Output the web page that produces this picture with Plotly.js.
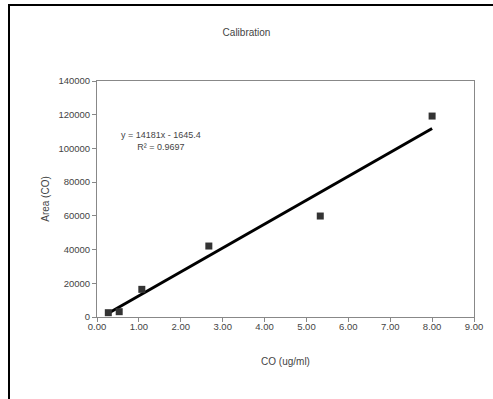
<!DOCTYPE html>
<html>
<head>
<meta charset="utf-8">
<script src="https://cdn.plot.ly/plotly-3.0.1.min.js"></script>
<style>
  html, body { margin: 0; padding: 0; background: #fff; }
  #wrap { position: relative; width: 493px; height: 399px; }
  #chart { position: absolute; left: 0; top: 0; width: 493px; height: 399px; }
  #frameL { position: absolute; left: 8px; top: 4px; width: 2px; height: 395px; background: #000; }
  #frameT { position: absolute; left: 8px; top: 4px; width: 485px; height: 2px; background: #000; }
</style>
</head>
<body>
<div id="wrap">
  <div id="chart"></div>
  <div id="frameL"></div>
  <div id="frameT"></div>
</div>
<script>
// Data
const concentration = [0.27, 0.53, 1.07, 2.67, 5.33, 8.00];
const area = [2550, 3150, 16400, 42100, 59900, 119200];
const slope = 14181;
const intercept = -1645.4;
const rSquared = 0.9697;
const xTickVals = [0, 1, 2, 3, 4, 5, 6, 7, 8, 9];
const yTickVals = [0, 20000, 40000, 60000, 80000, 100000, 120000, 140000];

const fitX = [Math.min(...concentration), Math.max(...concentration)];
const fitY = fitX.map(x => slope * x + intercept);

const fontFam = '"Liberation Sans Narrow", "Liberation Sans", Arial, sans-serif';

const traces = [
  {
    x: fitX, y: fitY, mode: 'lines', type: 'scatter',
    line: { color: '#000', width: 3 }, hoverinfo: 'skip'
  },
  {
    x: concentration, y: area, mode: 'markers', type: 'scatter',
    marker: { symbol: 'square', size: 7, color: '#333' }
  }
];

const layout = {
  width: 493, height: 399,
  margin: { l: 97, r: 19, t: 81, b: 82 },
  paper_bgcolor: '#fff', plot_bgcolor: '#fff',
  showlegend: false,
  title: {
    text: 'Calibration',
    font: { family: fontFam, size: 10, color: '#444' },
    x: 0.5, xanchor: 'center', y: 1 - 32 / 399, yanchor: 'middle', yref: 'container'
  },
  xaxis: {
    range: [0, 9], tickvals: xTickVals, tickformat: '.2f',
    showgrid: false, zeroline: false,
    showline: true, mirror: true, linecolor: '#888', linewidth: 1,
    ticks: 'outside', ticklen: 4, tickcolor: '#888', ticklabelstandoff: -3,
    tickfont: { family: fontFam, size: 9.5, color: '#444' },
    title: { text: 'CO (ug/ml)', font: { family: fontFam, size: 10, color: '#444' }, standoff: 26 }
  },
  yaxis: {
    range: [0, 140000], tickvals: yTickVals, tickformat: 'd',
    showgrid: false, zeroline: false,
    showline: true, mirror: true, linecolor: '#888', linewidth: 1,
    ticks: 'outside', ticklen: 4, tickcolor: '#888',
    tickfont: { family: fontFam, size: 9.5, color: '#444' },
    title: { text: 'Area (CO)', font: { family: fontFam, size: 10, color: '#444' }, standoff: 6 }
  },
  annotations: [
    {
      xref: 'paper', yref: 'paper', x: (161 - 97) / 377, y: (317 - 141) / 236,
      xanchor: 'center', yanchor: 'middle', showarrow: false, align: 'center',
      text: 'y = ' + slope + 'x - ' + Math.abs(intercept) + '<br>R² = ' + rSquared,
      font: { family: fontFam, size: 9, color: '#444' }
    }
  ]
};

Plotly.newPlot('chart', traces, layout, { displayModeBar: false, staticPlot: true });
</script>
</body>
</html>
